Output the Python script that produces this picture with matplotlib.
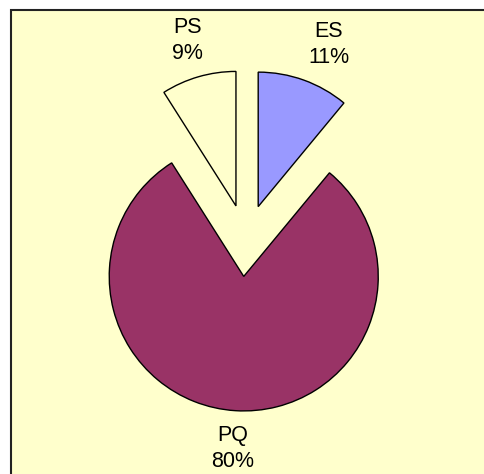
import matplotlib.pyplot as plt
from matplotlib.patches import Rectangle

# chart data
names = ["ES", "PQ", "PS"]
shares = [11, 80, 9]
colours = ["#9999FF", "#993366", "#FFFFCC"]

fig = plt.figure(figsize=(4.84, 4.74), dpi=100)
fig.patch.set_facecolor("white")

# pale yellow chart area with dark border (right/bottom run off the image)
fig.patches.append(Rectangle((10.5 / 484, -0.1), 1.2, 1.1 - 10.5 / 474,
                             transform=fig.transFigure, facecolor="#FFFFCC",
                             edgecolor="#222222", linewidth=1.5, zorder=-10))

ax = fig.add_axes([0, 0, 1, 1])
ax.set_zorder(5)
labels = [f"{n}\n{v}%" for n, v in zip(names, shares)]
wedges, texts = ax.pie(shares, labels=labels, colors=colours, startangle=90,
                       counterclock=False, explode=[36, 36, 36], radius=134.5,
                       labeldistance=1.28,
                       wedgeprops=dict(edgecolor="black", linewidth=1.0),
                       textprops=dict(ha="center", va="center", fontsize=15.5,
                                      family="Liberation Sans", linespacing=1.3))
# ES label sits a bit further right in the original
x, y = texts[0].get_position()
texts[0].set_position((x + 12, y))

ax.set_xlim(-246, 484 - 246)
ax.set_ylim(-(474 - 240.5), 240.5)
ax.set_aspect("equal")
ax.axis("off")

fig.savefig("out.png", dpi=100, facecolor=fig.get_facecolor())
